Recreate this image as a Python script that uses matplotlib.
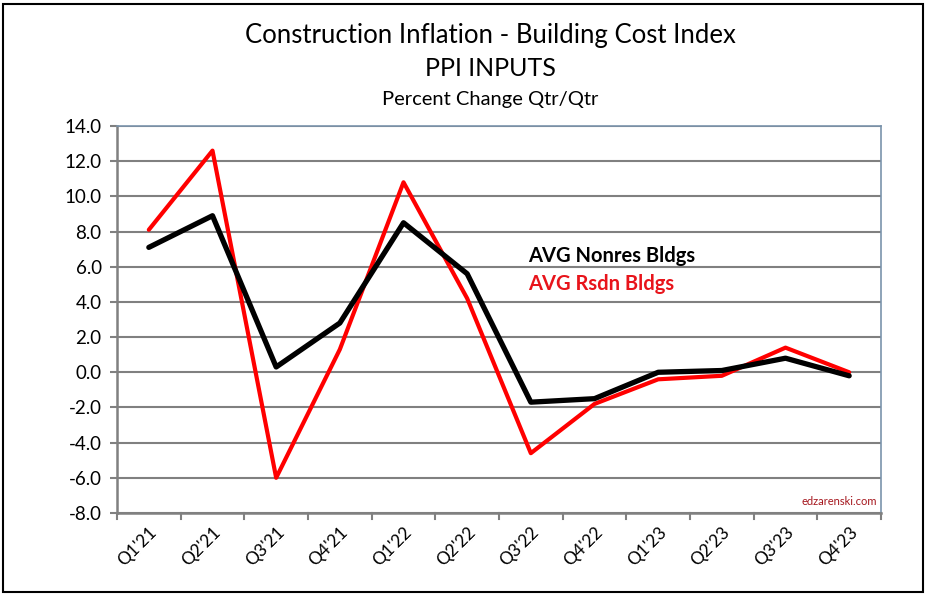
import matplotlib.pyplot as plt
from matplotlib.patches import Rectangle

quarters = ["Q1'21", "Q2'21", "Q3'21", "Q4'21", "Q1'22", "Q2'22",
            "Q3'22", "Q4'22", "Q1'23", "Q2'23", "Q3'23", "Q4'23"]
nonres = [7.1, 8.9, 0.3, 2.8, 8.5, 5.6, -1.7, -1.5, 0.0, 0.1, 0.8, -0.2]
rsdn = [8.1, 12.6, -6.0, 1.3, 10.8, 4.2, -4.6, -1.8, -0.4, -0.2, 1.4, 0.0]
yticks = [-8, -6, -4, -2, 0, 2, 4, 6, 8, 10, 12, 14]

plt.rcParams['font.family'] = ['Lato', 'DejaVu Sans']

fig = plt.figure(figsize=(9.27, 5.98), dpi=100)
ax = fig.add_axes([117 / 927, 1 - 513 / 598, (881 - 117) / 927, (513 - 126) / 598])

# outer chart frame
fig.patches.append(Rectangle((3 / 927, 6 / 598), 920 / 927, 588 / 598,
                             transform=fig.transFigure, fill=False,
                             edgecolor='black', linewidth=1.5))

x = list(range(len(quarters)))
ax.plot(x, rsdn, color='#ff0000', linewidth=3.0, solid_capstyle='round', zorder=3)
ax.plot(x, nonres, color='black', linewidth=3.8, solid_capstyle='round', zorder=4)

ax.set_xlim(-0.5, len(quarters) - 0.5)
ax.set_ylim(-8, 14)
ax.set_yticks(yticks)
ax.set_yticklabels([f"{v:.1f}" for v in yticks], fontsize=13.5)
ax.set_xticks(x)
ax.set_xticklabels(quarters, rotation=45, ha='right', rotation_mode='anchor', fontsize=12.5)
ax.tick_params(axis='x', length=0, pad=8)
ax.tick_params(axis='y', length=5, width=1.5, color='#808080', pad=6)

# category boundary ticks
for b in [i - 0.5 for i in range(len(quarters) + 1)]:
    ax.plot([b, b], [-8, -8.35], color='#808080', linewidth=1.5, clip_on=False)

ax.grid(axis='y', color='#808080', linewidth=1.5)
ax.set_axisbelow(True)
for s in ['left', 'bottom']:
    ax.spines[s].set_color('#808080')
    ax.spines[s].set_linewidth(1.8)
for s in ['top', 'right']:
    ax.spines[s].set_color('#7a93ab')
    ax.spines[s].set_linewidth(1.2)

fig.text(490 / 927, 1 - 36 / 598, "Construction Inflation - Building Cost Index",
         ha='center', va='center', fontsize=18.5)
fig.text(490 / 927, 1 - 69 / 598, "PPI INPUTS", ha='center', va='center', fontsize=18)
fig.text(490 / 927, 1 - 100 / 598, "Percent Change Qtr/Qtr", ha='center', va='center', fontsize=14.5)

ax.text(5.95, 6.6, "AVG Nonres Bldgs", color='black', fontsize=14.5, fontweight='bold', va='center')
ax.text(5.95, 5.0, "AVG Rsdn Bldgs", color='#e8141b', fontsize=14.5, fontweight='bold', va='center')
ax.text(0.995, 0.015, "edzarenski.com", color='#a5161d', fontsize=8,
        ha='right', va='bottom', transform=ax.transAxes)

fig.savefig("out.png", dpi=100)
